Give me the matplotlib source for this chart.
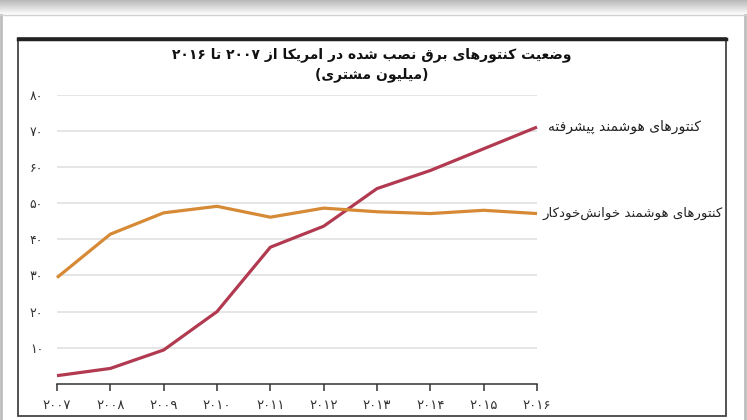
import numpy as np
import matplotlib
matplotlib.use("Agg")
import matplotlib.pyplot as plt
from matplotlib.patches import Rectangle

# data (million customers)
years = [2007, 2008, 2009, 2010, 2011, 2012, 2013, 2014, 2015, 2016]
advanced = [2.3, 4.3, 9.4, 20.0, 37.8, 43.6, 54.0, 59.0, 65.0, 71.0]
automatic = [29.4, 41.4, 47.3, 49.1, 46.1, 48.6, 47.6, 47.1, 48.0, 47.1]
yticks = [10, 20, 30, 40, 50, 60, 70, 80]

title_1 = "وضعیت کنتورهای برق نصب شده در امریکا از ۲۰۰۷ تا ۲۰۱۶"
title_2 = "میلیون مشتری"
label_adv = "کنتورهای هوشمند پیشرفته"
label_auto = "کنتورهای هوشمند خوانش\u200cخودکار"

# matplotlib does no arabic shaping, so pick presentation forms by hand
# (isolated, final, initial, medial)
FORMS = {
    'ا': (0xFE8D, 0xFE8E, None, None),
    'ب': (0xFE8F, 0xFE90, 0xFE91, 0xFE92),
    'پ': (0xFB56, 0xFB57, 0xFB58, 0xFB59),
    'ت': (0xFE95, 0xFE96, 0xFE97, 0xFE98),
    'خ': (0xFEA5, 0xFEA6, 0xFEA7, 0xFEA8),
    'د': (0xFEA9, 0xFEAA, None, None),
    'ر': (0xFEAD, 0xFEAE, None, None),
    'ز': (0xFEAF, 0xFEB0, None, None),
    'ش': (0xFEB5, 0xFEB6, 0xFEB7, 0xFEB8),
    'ص': (0xFEB9, 0xFEBA, 0xFEBB, 0xFEBC),
    'ض': (0xFEBD, 0xFEBE, 0xFEBF, 0xFEC0),
    'ع': (0xFEC9, 0xFECA, 0xFECB, 0xFECC),
    'ف': (0xFED1, 0xFED2, 0xFED3, 0xFED4),
    'ق': (0xFED5, 0xFED6, 0xFED7, 0xFED8),
    'ک': (0xFB8E, 0xFB8F, 0xFB90, 0xFB91),
    'ل': (0xFEDD, 0xFEDE, 0xFEDF, 0xFEE0),
    'م': (0xFEE1, 0xFEE2, 0xFEE3, 0xFEE4),
    'ن': (0xFEE5, 0xFEE6, 0xFEE7, 0xFEE8),
    'و': (0xFEED, 0xFEEE, None, None),
    'ه': (0xFEE9, 0xFEEA, 0xFEEB, 0xFEEC),
    'ی': (0xFBFC, 0xFBFD, 0xFBFE, 0xFBFF),
}


def is_digit(c):
    return '\u06f0' <= c <= '\u06f9'


def fa(text):
    out = []
    n = len(text)
    for i, ch in enumerate(text):
        if ch not in FORMS:
            if ch != '\u200c':
                out.append(ch)
            continue
        iso, fin, ini, med = FORMS[ch]
        prev_j = i > 0 and text[i - 1] in FORMS and FORMS[text[i - 1]][2] is not None
        next_j = i < n - 1 and text[i + 1] in FORMS and ini is not None
        if prev_j and next_j:
            out.append(chr(med))
        elif prev_j:
            out.append(chr(fin))
        elif next_j:
            out.append(chr(ini))
        else:
            out.append(chr(iso))
    out = out[::-1]
    # numbers keep left-to-right order
    res, run = [], []
    for c in out:
        if is_digit(c):
            run.append(c)
        else:
            res.extend(run[::-1])
            run = []
            res.append(c)
    res.extend(run[::-1])
    return "".join(res)


def fa_num(v):
    return "".join(chr(0x06F0 + int(d)) for d in str(v))


W, H = 747, 420
fig = plt.figure(figsize=(W / 100, H / 100), dpi=100)
fig.patch.set_facecolor("white")

# page decoration: shadow on top, outer panel and inner frame
bg = fig.add_axes([0, 0, 1, 1])
bg.set_xlim(0, W)
bg.set_ylim(H, 0)
bg.axis("off")
grad = np.linspace(0.72, 1.0, 50).reshape(-1, 1)
bg.imshow(grad, cmap="gray", vmin=0, vmax=1, extent=[0, W, 15, 0], aspect="auto")
bg.plot([1, 1], [15, H], color="#bdbdbd", lw=2)
bg.plot([745, 745], [15, H], color="#bdbdbd", lw=2)
bg.plot([0, W], [15, 15], color="#d0d0d0", lw=1)
bg.add_patch(Rectangle((18, 38), 708, 378, fill=False, ec="#444444", lw=1.3))
bg.plot([18, 726], [38.5, 38.5], color="#222222", lw=2.5)

# title
bg.text(372, 55, fa(title_1), ha="center", va="center", fontsize=10,
        fontweight="bold", color="#111111", family="DejaVu Sans")
bg.text(372, 75, "(" + fa(title_2) + ")", ha="center", va="center", fontsize=10,
        fontweight="bold", color="#111111", family="DejaVu Sans")

# main plot area: 2007 -> x=57px, 2016 -> x=537px, 0 -> y=384px, 80 -> y=94.5px
ax = fig.add_axes([57 / W, (H - 384) / H, 480 / W, (384 - 94.5) / H])
ax.set_facecolor("none")
ax.set_xlim(2007, 2016)
ax.set_ylim(0, 80)

red = "#b23a50"
orange = "#d68a36"
ax.plot(years, advanced, color=red, lw=2.3, clip_on=False, solid_capstyle="butt", zorder=3)
ax.plot(years, automatic, color=orange, lw=2.3, clip_on=False, solid_capstyle="butt", zorder=3)

ax.set_yticks(yticks)
ax.set_yticklabels([fa_num(v) for v in yticks], fontsize=9, color="#333333")
ax.set_xticks(years)
ax.set_xticklabels([fa_num(y) for y in years], fontsize=9.5, color="#333333")
ax.grid(axis="y", color="#dedede", lw=1.1)
ax.set_axisbelow(True)
for s in ["top", "right", "left"]:
    ax.spines[s].set_visible(False)
ax.spines["bottom"].set_color("#333333")
ax.spines["bottom"].set_linewidth(1.1)
ax.tick_params(axis="y", length=0, pad=10)
ax.tick_params(axis="x", direction="out", length=5, width=1.1, color="#333333", pad=6)

ax.annotate(fa(label_adv), xy=(years[-1], advanced[-1]), xytext=(8, 0),
            textcoords="offset points", ha="left", va="center", fontsize=10,
            color="#222222", annotation_clip=False)
ax.annotate(fa(label_auto), xy=(years[-1], automatic[-1]), xytext=(4, 0),
            textcoords="offset points", ha="left", va="center", fontsize=9.6,
            color="#222222", annotation_clip=False)

fig.savefig("out.png", dpi=100)
